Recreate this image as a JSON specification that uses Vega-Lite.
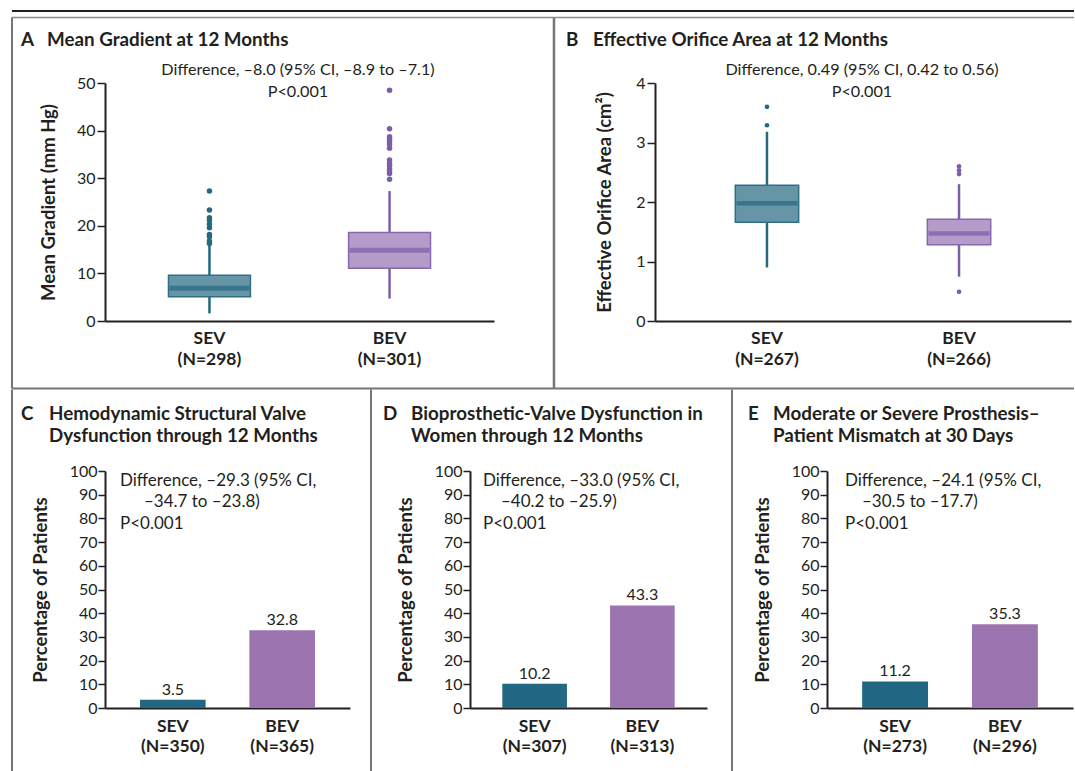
{
"$schema":"https://vega.github.io/schema/vega-lite/v6.json",
"padding":{"left":10,"top":9,"right":0,"bottom":0},
"autosize":{"type":"pad"},
"config":{
 "font":"Lato",
 "view":{"stroke":null},
 "text":{"font":"Lato","color":"#231f20"},
 "axis":{"domainColor":"#231f20","domainWidth":2,"tickColor":"#231f20","tickWidth":1.5,"labelColor":"#231f20","labelFont":"Lato","labelFontSize":16,"titleFont":"Lato","titleFontSize":18.5,"titleFontWeight":"bold","titleColor":"#231f20","grid":false},
 "axisX":{"ticks":false,"labelFontWeight":"bold","labelFontSize":17.5,"labelAngle":0,"labelPadding":8,"labelLineHeight":21,"title":null},
 "axisY":{"tickSize":8,"labelPadding":2,"titlePadding":18}
},
"datasets":{
 "one":[{"k":1}],
 "mg_sum":[
  {"arm":"SEV","label":"SEV (N=298)","lo":1.6,"q1":5.1,"med":6.9,"q3":9.6,"hi":16.0},
  {"arm":"BEV","label":"BEV (N=301)","lo":4.7,"q1":11.1,"med":14.85,"q3":18.6,"hi":27.3}
 ],
 "mg_out":[
  {"arm":"SEV","label":"SEV (N=298)","value":27.3},
  {"arm":"SEV","label":"SEV (N=298)","value":23.3},
  {"arm":"SEV","label":"SEV (N=298)","value":21.7},
  {"arm":"SEV","label":"SEV (N=298)","value":21.2},
  {"arm":"SEV","label":"SEV (N=298)","value":20.4},
  {"arm":"SEV","label":"SEV (N=298)","value":19.6},
  {"arm":"SEV","label":"SEV (N=298)","value":18.2},
  {"arm":"SEV","label":"SEV (N=298)","value":17.7},
  {"arm":"SEV","label":"SEV (N=298)","value":16.8},
  {"arm":"SEV","label":"SEV (N=298)","value":16.3},
  {"arm":"BEV","label":"BEV (N=301)","value":48.5},
  {"arm":"BEV","label":"BEV (N=301)","value":40.4},
  {"arm":"BEV","label":"BEV (N=301)","value":38.7},
  {"arm":"BEV","label":"BEV (N=301)","value":38.2},
  {"arm":"BEV","label":"BEV (N=301)","value":37.7},
  {"arm":"BEV","label":"BEV (N=301)","value":37.1},
  {"arm":"BEV","label":"BEV (N=301)","value":36.3},
  {"arm":"BEV","label":"BEV (N=301)","value":33.8},
  {"arm":"BEV","label":"BEV (N=301)","value":33.1},
  {"arm":"BEV","label":"BEV (N=301)","value":32.6},
  {"arm":"BEV","label":"BEV (N=301)","value":32.0},
  {"arm":"BEV","label":"BEV (N=301)","value":31.5},
  {"arm":"BEV","label":"BEV (N=301)","value":31.0},
  {"arm":"BEV","label":"BEV (N=301)","value":29.8}
 ],
 "eoa_sum":[
  {"arm":"SEV","label":"SEV (N=267)","lo":0.9,"q1":1.66,"med":1.98,"q3":2.28,"hi":3.18},
  {"arm":"BEV","label":"BEV (N=266)","lo":0.745,"q1":1.28,"med":1.47,"q3":1.71,"hi":2.3}
 ],
 "eoa_out":[
  {"arm":"SEV","label":"SEV (N=267)","value":3.6},
  {"arm":"SEV","label":"SEV (N=267)","value":3.29},
  {"arm":"BEV","label":"BEV (N=266)","value":2.6},
  {"arm":"BEV","label":"BEV (N=266)","value":2.53},
  {"arm":"BEV","label":"BEV (N=266)","value":2.47},
  {"arm":"BEV","label":"BEV (N=266)","value":0.49}
 ],
 "c_bars":[{"arm":"SEV","label":"SEV (N=350)","pct":3.5},{"arm":"BEV","label":"BEV (N=365)","pct":32.8}],
 "d_bars":[{"arm":"SEV","label":"SEV (N=307)","pct":10.2},{"arm":"BEV","label":"BEV (N=313)","pct":43.3}],
 "e_bars":[{"arm":"SEV","label":"SEV (N=273)","pct":11.2},{"arm":"BEV","label":"BEV (N=296)","pct":35.3}]
},
"resolve":{"scale":{"color":"independent","fill":"independent","stroke":"independent"}},
"spacing":-2,
"vconcat":[
 {"hconcat":[
  {"width":389,"height":238,
   "resolve":{"scale":{"x":"independent"}},
   "layer":[
    {"data":{"name":"one"},"layer":[
     {"mark":{"type":"rule","color":"#231f20","strokeWidth":2},"encoding":{"x":{"datum":-0.2391,"type":"quantitative","scale":{"domain":[0,1],"nice":false,"zero":false},"axis":null},"x2":{"datum":1.1542},"y":{"datum":65.126}}},
     {"mark":{"type":"rule","color":"#8c8c8c","strokeWidth":1.5},"encoding":{"x":{"datum":-0.2391,"type":"quantitative","scale":{"domain":[0,1],"nice":false,"zero":false},"axis":null},"x2":{"datum":1.1542},"y":{"datum":63.761}}},
     {"mark":{"type":"rule","color":"#777777","strokeWidth":2},"encoding":{"x":{"datum":-0.2391,"type":"quantitative","scale":{"domain":[0,1],"nice":false,"zero":false},"axis":null},"x2":{"datum":1.1542},"y":{"datum":-14.181}}},
     {"mark":{"type":"rule","color":"#777777","strokeWidth":2},"encoding":{"x":{"datum":-0.2391,"type":"quantitative","scale":{"domain":[0,1],"nice":false,"zero":false},"axis":null},"y":{"datum":63.761},"y2":{"datum":-14.181}}},
     {"mark":{"type":"rule","color":"#777777","strokeWidth":2.5},"encoding":{"x":{"datum":1.1542,"type":"quantitative","scale":{"domain":[0,1],"nice":false,"zero":false},"axis":null},"y":{"datum":63.761},"y2":{"datum":-14.181}}},
     {"mark":{"type":"text","text":"A","align":"left","baseline":"alphabetic","fontSize":18.8,"fontWeight":"bold"},"encoding":{"x":{"datum":-0.2159,"type":"quantitative","scale":{"domain":[0,1],"nice":false,"zero":false},"axis":null},"y":{"datum":57.773}}},
     {"mark":{"type":"text","text":"Mean Gradient at 12 Months","align":"left","baseline":"alphabetic","fontSize":18.8,"fontWeight":"bold"},"encoding":{"x":{"datum":-0.1491,"type":"quantitative","scale":{"domain":[0,1],"nice":false,"zero":false},"axis":null},"y":{"datum":57.773}}},
     {"mark":{"type":"text","text":["Difference, –8.0 (95% CI, –8.9 to –7.1)","P<0.001"],"align":"center","baseline":"alphabetic","fontSize":16.2,"lineHeight":22},"encoding":{"x":{"datum":0.4961,"type":"quantitative","scale":{"domain":[0,1],"nice":false,"zero":false},"axis":null},"y":{"datum":51.681}}}
    ]},
    {"layer":[
     {"data":{"name":"mg_sum"},"mark":{"type":"rule","strokeWidth":2.5},
      "encoding":{
       "x":{"field":"label","type":"nominal","scale":{"domain":["SEV (N=298)","BEV (N=301)"],"paddingInner":0,"paddingOuter":0.08},"axis":{"title":null,"labelExpr":"split(datum.label,' ')"}},
       "y":{"field":"lo","type":"quantitative","scale":{"domain":[0,50]},"axis":{"title":"Mean Gradient (mm Hg)","tickCount":5}},
       "y2":{"field":"hi"},
       "color":{"field":"arm","type":"nominal","scale":{"domain":["SEV","BEV"],"range":["#236a80","#7b5ea7"]},"legend":null}}},
     {"data":{"name":"mg_sum"},"mark":{"type":"bar","width":{"band":0.455},"strokeWidth":1.5},
      "encoding":{
       "x":{"field":"label","type":"nominal"},
       "y":{"field":"q1","type":"quantitative"},
       "y2":{"field":"q3"},
       "fill":{"field":"arm","type":"nominal","scale":{"domain":["SEV","BEV"],"range":["#6795a8","#b49bc9"]},"legend":null},
       "stroke":{"field":"arm","type":"nominal","scale":{"domain":["SEV","BEV"],"range":["#2f7087","#8669ae"]},"legend":null}}},
     {"data":{"name":"mg_sum"},"mark":{"type":"tick","thickness":5,"size":80},
      "encoding":{
       "x":{"field":"label","type":"nominal"},
       "y":{"field":"med","type":"quantitative"},
       "color":{"field":"arm","type":"nominal","legend":null}}},
     {"data":{"name":"mg_out"},"mark":{"type":"circle","size":30,"opacity":1},
      "encoding":{
       "x":{"field":"label","type":"nominal"},
       "y":{"field":"value","type":"quantitative"},
       "color":{"field":"arm","type":"nominal","legend":null}}}
    ]}
   ]},
  {"width":416,"height":238,
   "resolve":{"scale":{"x":"independent"}},
   "layer":[
    {"data":{"name":"one"},"layer":[
     {"mark":{"type":"rule","color":"#231f20","strokeWidth":2},"encoding":{"x":{"datum":-0.2428,"type":"quantitative","scale":{"domain":[0,1],"nice":false,"zero":false},"axis":null},"x2":{"datum":1.0072},"y":{"datum":5.2101}}},
     {"mark":{"type":"rule","color":"#8c8c8c","strokeWidth":1.5},"encoding":{"x":{"datum":-0.2428,"type":"quantitative","scale":{"domain":[0,1],"nice":false,"zero":false},"axis":null},"x2":{"datum":1.0072},"y":{"datum":5.1008}}},
     {"mark":{"type":"rule","color":"#777777","strokeWidth":2},"encoding":{"x":{"datum":-0.2428,"type":"quantitative","scale":{"domain":[0,1],"nice":false,"zero":false},"axis":null},"x2":{"datum":1.0072},"y":{"datum":-1.1345}}},
     {"mark":{"type":"text","text":"B","align":"left","baseline":"alphabetic","fontSize":18.8,"fontWeight":"bold"},"encoding":{"x":{"datum":-0.2139,"type":"quantitative","scale":{"domain":[0,1],"nice":false,"zero":false},"axis":null},"y":{"datum":4.6218}}},
     {"mark":{"type":"text","text":"Effective Orifice Area at 12 Months","align":"left","baseline":"alphabetic","fontSize":18.8,"fontWeight":"bold"},"encoding":{"x":{"datum":-0.149,"type":"quantitative","scale":{"domain":[0,1],"nice":false,"zero":false},"axis":null},"y":{"datum":4.6218}}},
     {"mark":{"type":"text","text":["Difference, 0.49 (95% CI, 0.42 to 0.56)","P<0.001"],"align":"center","baseline":"alphabetic","fontSize":16.2,"lineHeight":22},"encoding":{"x":{"datum":0.4976,"type":"quantitative","scale":{"domain":[0,1],"nice":false,"zero":false},"axis":null},"y":{"datum":4.1345}}}
    ]},
    {"layer":[
     {"data":{"name":"eoa_sum"},"mark":{"type":"rule","strokeWidth":2.5},
      "encoding":{
       "x":{"field":"label","type":"nominal","scale":{"domain":["SEV (N=267)","BEV (N=266)"],"paddingInner":0,"paddingOuter":0.083},"axis":{"title":null,"labelExpr":"split(datum.label,' ')"}},
       "y":{"field":"lo","type":"quantitative","scale":{"domain":[0,4]},"axis":{"title":"Effective Orifice Area (cm²)","tickCount":4,"titlePadding":21}},
       "y2":{"field":"hi"},
       "color":{"field":"arm","type":"nominal","scale":{"domain":["SEV","BEV"],"range":["#236a80","#7b5ea7"]},"legend":null}}},
     {"data":{"name":"eoa_sum"},"mark":{"type":"bar","width":{"band":0.33},"strokeWidth":1.5},
      "encoding":{
       "x":{"field":"label","type":"nominal"},
       "y":{"field":"q1","type":"quantitative"},
       "y2":{"field":"q3"},
       "fill":{"field":"arm","type":"nominal","scale":{"domain":["SEV","BEV"],"range":["#6795a8","#b49bc9"]},"legend":null},
       "stroke":{"field":"arm","type":"nominal","scale":{"domain":["SEV","BEV"],"range":["#2f7087","#8669ae"]},"legend":null}}},
     {"data":{"name":"eoa_sum"},"mark":{"type":"tick","thickness":4.5,"size":61},
      "encoding":{
       "x":{"field":"label","type":"nominal"},
       "y":{"field":"med","type":"quantitative"},
       "color":{"field":"arm","type":"nominal","legend":null}}},
     {"data":{"name":"eoa_out"},"mark":{"type":"circle","size":22,"opacity":1},
      "encoding":{
       "x":{"field":"label","type":"nominal"},
       "y":{"field":"value","type":"quantitative"},
       "color":{"field":"arm","type":"nominal","legend":null}}}
    ]}
   ]}
 ],"spacing":161,"bounds":"flush",
 "resolve":{"scale":{"color":"independent","fill":"independent","stroke":"independent"}}},
 {"hconcat":[
  {"width":245,"height":237,
   "resolve":{"scale":{"x":"independent"}},
   "layer":[
    {"data":{"name":"one"},"layer":[
     {"mark":{"type":"rule","color":"#777777","strokeWidth":2},"encoding":{"x":{"datum":-0.3796,"type":"quantitative","scale":{"domain":[0,1],"nice":false,"zero":false},"axis":null},"y":{"datum":134.388},"y2":{"datum":-26.582}}},
     {"mark":{"type":"text","text":"C","align":"left","baseline":"alphabetic","fontSize":18.8,"fontWeight":"bold"},"encoding":{"x":{"datum":-0.3429,"type":"quantitative","scale":{"domain":[0,1],"nice":false,"zero":false},"axis":null},"y":{"datum":121.519}}},
     {"mark":{"type":"text","text":["Hemodynamic Structural Valve","Dysfunction through 12 Months"],"align":"left","baseline":"alphabetic","fontSize":18.8,"fontWeight":"bold","lineHeight":22},"encoding":{"x":{"datum":-0.2286,"type":"quantitative","scale":{"domain":[0,1],"nice":false,"zero":false},"axis":null},"y":{"datum":121.519}}},
     {"mark":{"type":"text","text":"Difference, –29.3 (95% CI,","align":"left","baseline":"alphabetic","fontSize":17},"encoding":{"x":{"datum":0.0612,"type":"quantitative","scale":{"domain":[0,1],"nice":false,"zero":false},"axis":null},"y":{"datum":93.671}}},
     {"mark":{"type":"text","text":"–34.7 to –23.8)","align":"left","baseline":"alphabetic","fontSize":17},"encoding":{"x":{"datum":0.1592,"type":"quantitative","scale":{"domain":[0,1],"nice":false,"zero":false},"axis":null},"y":{"datum":84.6}}},
     {"mark":{"type":"text","text":"P<0.001","align":"left","baseline":"alphabetic","fontSize":17},"encoding":{"x":{"datum":0.0612,"type":"quantitative","scale":{"domain":[0,1],"nice":false,"zero":false},"axis":null},"y":{"datum":75.53}}}
    ]},
    {"layer":[
     {"data":{"name":"c_bars"},"mark":{"type":"bar"},
      "encoding":{
       "x":{"field":"label","type":"nominal","scale":{"domain":["SEV (N=350)","BEV (N=365)"],"paddingInner":0.4,"paddingOuter":0.32},"axis":{"title":null,"labelExpr":"split(datum.label,' ')","labelPadding":9,"labelLineHeight":20}},
       "y":{"field":"pct","type":"quantitative","scale":{"domain":[0,100]},"axis":{"title":"Percentage of Patients","tickCount":10,"tickSize":7,"labelPadding":1,"titlePadding":19}},
       "color":{"field":"arm","type":"nominal","scale":{"domain":["SEV","BEV"],"range":["#236882","#9b74b0"]},"legend":null}}},
     {"data":{"name":"c_bars"},"mark":{"type":"text","dy":-5,"baseline":"alphabetic","fontSize":16},
      "encoding":{
       "x":{"field":"label","type":"nominal"},
       "y":{"field":"pct","type":"quantitative"},
       "text":{"field":"pct","type":"quantitative","format":".1f"}}}
    ]}
   ]},
  {"width":237,"height":237,
   "resolve":{"scale":{"x":"independent"}},
   "layer":[
    {"data":{"name":"one"},"layer":[
     {"mark":{"type":"rule","color":"#777777","strokeWidth":2},"encoding":{"x":{"datum":-0.4177,"type":"quantitative","scale":{"domain":[0,1],"nice":false,"zero":false},"axis":null},"y":{"datum":134.388},"y2":{"datum":-26.582}}},
     {"mark":{"type":"text","text":"D","align":"left","baseline":"alphabetic","fontSize":18.8,"fontWeight":"bold"},"encoding":{"x":{"datum":-0.3671,"type":"quantitative","scale":{"domain":[0,1],"nice":false,"zero":false},"axis":null},"y":{"datum":121.519}}},
     {"mark":{"type":"text","text":["Bioprosthetic-Valve Dysfunction in","Women through 12 Months"],"align":"left","baseline":"alphabetic","fontSize":18.8,"fontWeight":"bold","lineHeight":22},"encoding":{"x":{"datum":-0.2489,"type":"quantitative","scale":{"domain":[0,1],"nice":false,"zero":false},"axis":null},"y":{"datum":121.519}}},
     {"mark":{"type":"text","text":"Difference, –33.0 (95% CI,","align":"left","baseline":"alphabetic","fontSize":17},"encoding":{"x":{"datum":0.0549,"type":"quantitative","scale":{"domain":[0,1],"nice":false,"zero":false},"axis":null},"y":{"datum":93.671}}},
     {"mark":{"type":"text","text":"–40.2 to –25.9)","align":"left","baseline":"alphabetic","fontSize":17},"encoding":{"x":{"datum":0.1308,"type":"quantitative","scale":{"domain":[0,1],"nice":false,"zero":false},"axis":null},"y":{"datum":84.6}}},
     {"mark":{"type":"text","text":"P<0.001","align":"left","baseline":"alphabetic","fontSize":17},"encoding":{"x":{"datum":0.0549,"type":"quantitative","scale":{"domain":[0,1],"nice":false,"zero":false},"axis":null},"y":{"datum":75.53}}}
    ]},
    {"layer":[
     {"data":{"name":"d_bars"},"mark":{"type":"bar"},
      "encoding":{
       "x":{"field":"label","type":"nominal","scale":{"domain":["SEV (N=307)","BEV (N=313)"],"paddingInner":0.4,"paddingOuter":0.3},"axis":{"title":null,"labelExpr":"split(datum.label,' ')","labelPadding":9,"labelLineHeight":20}},
       "y":{"field":"pct","type":"quantitative","scale":{"domain":[0,100]},"axis":{"title":"Percentage of Patients","tickCount":10,"tickSize":7,"labelPadding":1,"titlePadding":19}},
       "color":{"field":"arm","type":"nominal","scale":{"domain":["SEV","BEV"],"range":["#236882","#9b74b0"]},"legend":null}}},
     {"data":{"name":"d_bars"},"mark":{"type":"text","dy":-5,"baseline":"alphabetic","fontSize":16},
      "encoding":{
       "x":{"field":"label","type":"nominal"},
       "y":{"field":"pct","type":"quantitative"},
       "text":{"field":"pct","type":"quantitative","format":".1f"}}}
    ]}
   ]},
  {"width":246,"height":237,
   "resolve":{"scale":{"x":"independent"}},
   "layer":[
    {"data":{"name":"one"},"layer":[
     {"mark":{"type":"rule","color":"#777777","strokeWidth":2},"encoding":{"x":{"datum":-0.3862,"type":"quantitative","scale":{"domain":[0,1],"nice":false,"zero":false},"axis":null},"y":{"datum":134.388},"y2":{"datum":-26.582}}},
     {"mark":{"type":"text","text":"E","align":"left","baseline":"alphabetic","fontSize":18.8,"fontWeight":"bold"},"encoding":{"x":{"datum":-0.3211,"type":"quantitative","scale":{"domain":[0,1],"nice":false,"zero":false},"axis":null},"y":{"datum":121.519}}},
     {"mark":{"type":"text","text":["Moderate or Severe Prosthesis–","Patient Mismatch at 30 Days"],"align":"left","baseline":"alphabetic","fontSize":18.8,"fontWeight":"bold","lineHeight":22},"encoding":{"x":{"datum":-0.2195,"type":"quantitative","scale":{"domain":[0,1],"nice":false,"zero":false},"axis":null},"y":{"datum":121.519}}},
     {"mark":{"type":"text","text":"Difference, –24.1 (95% CI,","align":"left","baseline":"alphabetic","fontSize":17},"encoding":{"x":{"datum":0.0732,"type":"quantitative","scale":{"domain":[0,1],"nice":false,"zero":false},"axis":null},"y":{"datum":93.671}}},
     {"mark":{"type":"text","text":"–30.5 to –17.7)","align":"left","baseline":"alphabetic","fontSize":17},"encoding":{"x":{"datum":0.1423,"type":"quantitative","scale":{"domain":[0,1],"nice":false,"zero":false},"axis":null},"y":{"datum":84.6}}},
     {"mark":{"type":"text","text":"P<0.001","align":"left","baseline":"alphabetic","fontSize":17},"encoding":{"x":{"datum":0.0732,"type":"quantitative","scale":{"domain":[0,1],"nice":false,"zero":false},"axis":null},"y":{"datum":75.53}}}
    ]},
    {"layer":[
     {"data":{"name":"e_bars"},"mark":{"type":"bar"},
      "encoding":{
       "x":{"field":"label","type":"nominal","scale":{"domain":["SEV (N=273)","BEV (N=296)"],"paddingInner":0.4,"paddingOuter":0.32},"axis":{"title":null,"labelExpr":"split(datum.label,' ')","labelPadding":9,"labelLineHeight":20}},
       "y":{"field":"pct","type":"quantitative","scale":{"domain":[0,100]},"axis":{"title":"Percentage of Patients","tickCount":10,"tickSize":7,"labelPadding":1,"titlePadding":19}},
       "color":{"field":"arm","type":"nominal","scale":{"domain":["SEV","BEV"],"range":["#236882","#9b74b0"]},"legend":null}}},
     {"data":{"name":"e_bars"},"mark":{"type":"text","dy":-5,"baseline":"alphabetic","fontSize":16},
      "encoding":{
       "x":{"field":"label","type":"nominal"},
       "y":{"field":"pct","type":"quantitative"},
       "text":{"field":"pct","type":"quantitative","format":".1f"}}}
    ]}
   ]}
 ],"spacing":120,"bounds":"flush",
 "resolve":{"scale":{"color":"independent","fill":"independent","stroke":"independent"}}}
]
}
